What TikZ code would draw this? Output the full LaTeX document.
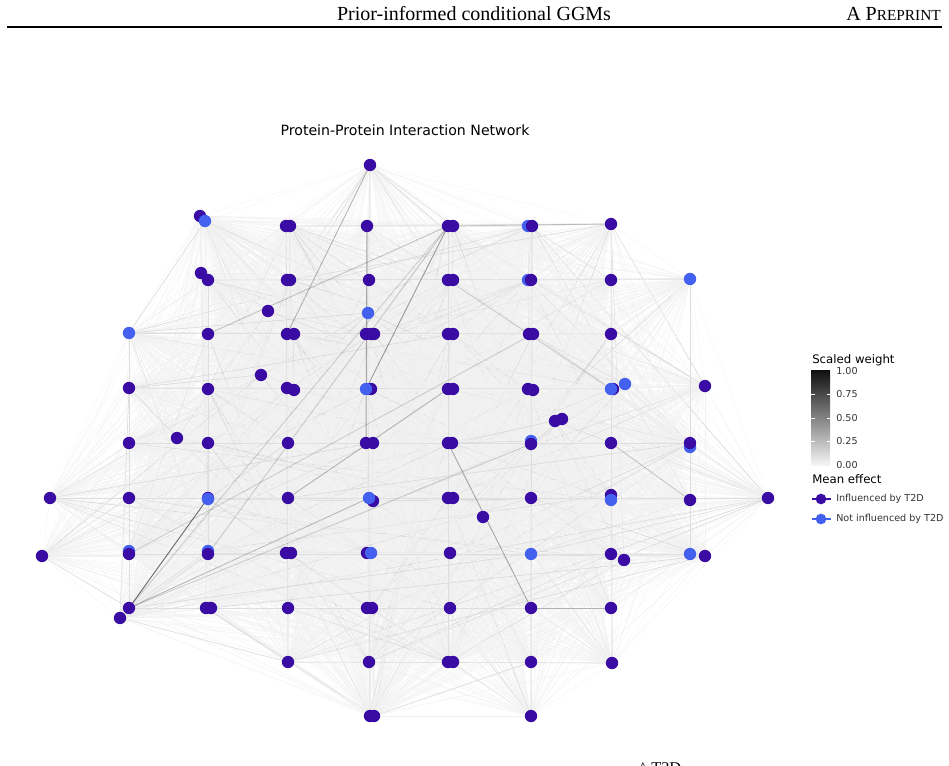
\documentclass[tikz,border=0pt]{standalone}
\usepackage{fontspec}
\setmainfont{DejaVu Sans}
\newfontfamily\seriffont{Liberation Serif}
\usetikzlibrary{backgrounds}
\definecolor{infl}{RGB}{58,12,163}
\definecolor{notinfl}{RGB}{67,97,238}
\begin{document}
\begin{tikzpicture}[x=0.75pt,y=-0.75pt,
  pn/.style={circle,fill=infl,draw=none,inner sep=0pt,minimum size=9.3pt},
  bn/.style={circle,fill=notinfl,draw=none,inner sep=0pt,minimum size=9.3pt},
  edge/.style={black!5.5,line width=0.2pt},
  medge/.style={black!16,line width=0.4pt},
  gline/.style={black!13,line width=0.45pt},
  hedge/.style={black,opacity=#1,line width=0.7pt},
  lbl/.style={font=\fontsize{7.2pt}{8pt}\selectfont,text=black!80,anchor=west,inner sep=0pt},
  ltitle/.style={font=\fontsize{8.8pt}{10pt}\selectfont,anchor=west,inner sep=0pt}]
\useasboundingbox (0,0) rectangle (949,766);
% header
\node[font=\seriffont\fontsize{15pt}{17pt}\selectfont,anchor=base,inner sep=0pt] (hdr) at (474,21) {Prior-informed conditional GGMs};
\node[font=\seriffont\fontsize{15pt}{17pt}\selectfont,anchor=base east,inner sep=0pt] (pre) at (941,21) {A P{\fontsize{11.5pt}{13pt}\selectfont REPRINT}};
\coordinate (rl) at (7,27); \coordinate (rr) at (942,27);
\draw[line width=0.9pt] (rl) -- (rr);
% title
\node[font=\fontsize{10.6pt}{12pt}\selectfont,inner sep=0pt] (title) at (405,130) {Protein-Protein Interaction Network};
% network nodes
\foreach \x/\y/\c [count=\k] in {
370/165/pn, 200/216/pn, 205/221/bn, 286/226/pn, 290/226/pn, 367/226/pn, 448/226/pn, 453/226/pn, 528/226/bn, 532/226/pn, 611/224/pn,
201/273/pn, 208/280/pn, 287/280/pn, 290/280/pn, 369/280/pn, 448/280/pn, 453/280/pn, 528/280/bn, 531/280/pn, 611/280/pn, 690/279/bn,
268/311/pn, 368/313/bn,
129/333/bn, 208/334/pn, 287/334/pn, 294/334/pn, 366/334/pn, 371/334/pn, 374/334/pn, 448/334/pn, 453/334/pn, 529/334/pn, 533/334/pn, 611/334/pn,
261/375/pn,
129/388/pn, 208/389/pn, 287/388/pn, 294/390/pn, 371/389/pn, 366/389/bn, 448/389/pn, 453/389/pn, 528/389/pn, 533/390/pn, 613/389/pn, 611/389/bn, 625/384/bn, 705/386/pn,
555/421/pn, 562/419/pn,
177/438/pn, 129/443/pn, 208/443/pn, 288/443/pn, 366/443/pn, 373/443/pn, 448/443/pn, 452/443/pn, 531/441/bn, 531/444/pn, 611/443/pn, 690/447/bn, 690/443/pn,
50/498/pn, 129/498/pn, 208/498/pn, 208/499/bn, 288/498/pn, 373/501/pn, 369/498/bn, 448/498/pn, 453/498/pn, 531/498/pn, 611/495/pn, 611/500/bn, 690/500/pn, 768/498/pn,
483/517/pn,
42/556/pn, 129/551/bn, 129/554/pn, 208/551/bn, 208/554/pn, 286/553/pn, 291/553/pn, 367/553/pn, 371/553/bn, 450/553/pn, 531/554/bn, 611/554/pn, 624/560/pn, 690/554/bn, 705/556/pn,
129/608/pn, 120/618/pn, 206/608/pn, 211/608/pn, 288/608/pn, 367/608/pn, 372/608/pn, 450/608/pn, 531/608/pn, 611/608/pn,
288/662/pn, 369/662/pn, 448/662/pn, 453/662/pn, 531/662/pn, 612/663/pn,
370/716/pn, 374/716/pn, 531/716/pn}
{ \node[\c,alias=v\x-\y] (n\k) at (\x,\y) {}; \xdef\N{\k} }
% edges
\begin{pgfonlayer}{background}
\pgfmathsetseed{4242}
\foreach \i in {1,...,\N}{
  \foreach \j in {1,...,\N}{
    \ifnum\j>\i
      \pgfmathrandominteger{\rr}{1}{100}
      \ifnum\rr<5 \draw[medge] (n\i.center) -- (n\j.center);
      \else \draw[edge] (n\i.center) -- (n\j.center); \fi
    \fi
  }
}
% grid rows and columns
\foreach \a/\b in {v286-226/v611-224, v208-280/v690-279, v129-333/v611-334, v129-388/v613-389,
  v129-443/v690-443, v50-498/v768-498, v129-554/v690-554, v129-608/v611-608, v288-662/v612-663,
  v129-333/v129-608, v208-280/v208-554, v286-226/v288-662, v367-226/v370-716, v448-226/v448-662,
  v532-226/v531-716, v611-224/v612-663, v690-279/v690-554}{
  \draw[gline] (\a.center) -- (\b.center);
}
\draw[hedge=0.55] (v129-608.center) -- (v208-498.center);
\draw[hedge=0.15] (v129-608.center) -- (v448-226.center);
\draw[hedge=0.25] (v370-165.center) -- (v287-334.center);
\draw[hedge=0.35] (v448-226.center) -- (v366-389.center);
\draw[hedge=0.3] (v367-226.center) -- (v366-443.center);
\draw[hedge=0.15] (v129-554.center) -- (v533-334.center);
\draw[hedge=0.25] (v288-498.center) -- (v448-389.center);
\draw[hedge=0.3] (v448-443.center) -- (v531-608.center);
\draw[hedge=0.18] (v611-443.center) -- (v690-500.center);
\draw[hedge=0.2] (v531-608.center) -- (v611-608.center);
\draw[hedge=0.15] (v129-608.center) -- (v531-444.center);
\draw[hedge=0.2] (v208-334.center) -- (v448-226.center);
\draw[hedge=0.15] (v208-554.center) -- (v448-226.center);
\draw[hedge=0.18] (v448-226.center) -- (v611-224.center);
\draw[hedge=0.18] (v129-608.center) -- (v369-498.center);
\draw[hedge=0.15] (v448-280.center) -- (v611-389.center);
\end{pgfonlayer}
% legend: scaled weight
\node[ltitle] (swt) at (812,360) {Scaled weight};
\shade[top color=black!93,bottom color=black!4] (811,371) rectangle (830,465);
\foreach \v/\yy in {1.00/371,0.75/394.5,0.50/418,0.25/441.5,0.00/465}{
  \node[lbl] at (836,\yy) {\v};
}
\foreach \yy in {394.5,418,441.5}{
  \draw[white,line width=0.5pt] (811,\yy) -- (814.5,\yy);
  \draw[white,line width=0.5pt] (826.5,\yy) -- (830,\yy);
}
% legend: mean effect
\node[ltitle] (met) at (812,479) {Mean effect};
\coordinate (k1a) at (812,499); \coordinate (k1b) at (831,499);
\draw[infl,line width=1pt] (k1a) -- (k1b);
\node[pn,minimum size=8pt] (k1) at (821,499) {};
\node[lbl] (l1) at (836,499) {Influenced by T2D};
\coordinate (k2a) at (812,519); \coordinate (k2b) at (831,519);
\draw[notinfl,line width=1pt] (k2a) -- (k2b);
\node[bn,minimum size=8pt] (k2) at (821,519) {};
\node[lbl] (l2) at (836,519) {Not influenced by T2D};
% clipped fragment at bottom
\node[font=\seriffont\fontsize{12.3pt}{14pt}\selectfont,anchor=base west,inner sep=0pt] (frag) at (651,773) {T2D};
\node[font=\seriffont\fontsize{12.3pt}{14pt}\selectfont,anchor=base,inner sep=0pt] (hat) at (643,773) {\^{}};
\end{tikzpicture}
\end{document}
